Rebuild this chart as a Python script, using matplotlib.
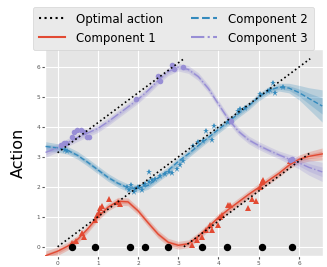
import matplotlib; matplotlib.use("Agg")
import matplotlib.pyplot as plt
import numpy as np

plt.style.use("ggplot")
plt.rcParams.update({"font.family": ["DejaVu Sans"]})

RED = "#E24A33"; BLUE = "#348ABD"; PURPLE = "#988ED5"

# optimal action segments (state -> action)
opt_x = [[0, 6.28], [0, 3.14], [3.14, 6.28]]
opt_y = [[0, 6.28], [3.14, 6.28], [0, 3.14]]

# visited states (black dots on a=0)
states = [0.36, 0.94, 1.81, 2.17, 2.74, 3.6, 4.22, 5.07, 5.82]

# component means / std
grid = [-0.3, 0, 0.25, 0.5, 0.75, 1.0, 1.25, 1.5, 1.75, 2.0, 2.25, 2.5, 2.75, 3.0,
        3.25, 3.5, 3.75, 4.0, 4.25, 4.5, 4.75, 5.0, 5.25, 5.5, 5.75, 6.0, 6.25, 6.58]
c1_mean = [-0.3, -0.15, 0.02, 0.25, 0.6, 1.0, 1.32, 1.52, 1.5, 1.2, 0.8, 0.42, 0.15, 0.05,
           0.1, 0.35, 0.66, 0.98, 1.25, 1.5, 1.75, 1.98, 2.22, 2.45, 2.72, 2.92, 3.02, 3.1]
c2_mean = [3.35, 3.3, 3.22, 3.05, 2.82, 2.57, 2.32, 2.12, 1.97, 1.95, 2.05, 2.3, 2.55, 2.85,
           3.1, 3.38, 3.65, 3.92, 4.18, 4.45, 4.7, 5.0, 5.22, 5.33, 5.3, 5.15, 4.95, 4.7]
c3_mean = [3.15, 3.3, 3.48, 3.65, 3.8, 3.95, 4.17, 4.42, 4.67, 4.92, 5.22, 5.55, 5.85, 6.0,
           5.92, 5.68, 5.28, 4.76, 4.25, 3.85, 3.57, 3.38, 3.22, 3.07, 2.93, 2.8, 2.65, 2.5]
c1_std = [0.08, 0.07] + [0.065] * 23 + [0.07, 0.08, 0.1]
c2_std = [0.08, 0.07] + [0.065] * 22 + [0.08, 0.12, 0.18, 0.27]
c3_std = [0.08, 0.07] + [0.065] * 22 + [0.08, 0.1, 0.13, 0.16]

# sampled actions per component
c1_px = [0.36, 0.45, 0.61, 0.65, 0.94, 0.98, 1.02, 1.06, 1.1, 1.27, 1.5, 1.56,
         3.33, 3.46, 3.58, 3.7, 3.79, 3.85, 3.99, 4.03, 4.08, 4.24, 4.28, 4.74, 4.84,
         4.94, 5.02, 5.07, 5.11, 5.77, 5.85]
c1_py = [0.12, 0.18, 0.46, 0.34, 0.89, 1.06, 1.17, 1.28, 1.36, 1.61, 1.48, 1.42,
         0.07, 0.21, 0.34, 0.56, 0.73, 0.56, 0.73, 1.0, 1.06, 1.39, 1.39, 1.31, 1.58,
         1.52, 2.0, 2.16, 2.22, 2.88, 2.9]
c2_px = [0.18, 0.24, 1.72, 1.77, 1.83, 1.89, 1.93, 2.01, 2.1, 2.14, 2.18, 2.26, 2.28,
         2.34, 2.43, 2.55, 2.67, 2.76, 2.84, 2.96, 3.04, 3.13, 3.37, 3.5, 3.62, 3.69,
         3.85, 3.89, 4.24, 4.28, 4.49, 4.53, 4.65, 5.02, 5.23, 5.27, 5.35, 5.4, 5.6]
c2_py = [3.23, 3.19, 2.0, 1.89, 2.05, 1.83, 1.94, 2.0, 1.89, 2.05, 2.1, 2.16, 2.49,
         2.22, 2.27, 2.35, 2.44, 2.49, 2.46, 2.6, 2.72, 2.88, 3.38, 3.49, 3.54, 3.85,
         3.57, 4.04, 4.15, 4.2, 4.54, 4.59, 4.65, 5.09, 5.2, 5.25, 5.47, 5.14, 5.33]
c3_px = [0.08, 0.15, 0.22, 0.36, 0.42, 0.49, 0.57, 0.65, 0.73, 0.77, 1.95, 2.49,
         2.55, 2.84, 2.9, 3.13, 4.32, 5.79, 5.83]
c3_py = [3.4, 3.47, 3.45, 3.65, 3.82, 3.9, 3.9, 3.82, 3.65, 3.68, 4.92, 5.7,
         5.53, 6.08, 5.92, 6.0, 4.2, 2.9, 2.92]

fig = plt.figure(figsize=(3.27, 2.67), dpi=100)
ax = fig.add_axes([0.138, 0.041, 0.850, 0.775])

comps = [(c1_mean, c1_std, RED, "-", "Component 1", c1_px, c1_py, "^", 4.0),
         (c2_mean, c2_std, BLUE, "--", "Component 2", c2_px, c2_py, "*", 4.5),
         (c3_mean, c3_std, PURPLE, "-.", "Component 3", c3_px, c3_py, "o", 4.0)]
handles = []
for mean, std, col, ls, lab, px, py, mk, ms in comps:
    g = np.array(grid); m = np.array(mean); s = np.array(std)
    ax.fill_between(g, m - 2 * s, m + 2 * s, color=col, alpha=0.25, lw=0, zorder=2)
    ax.fill_between(g, m - s, m + s, color=col, alpha=0.25, lw=0, zorder=2)
    h, = ax.plot(g, m, ls=ls, color=col, lw=1.0, zorder=3, label=lab)
    ax.plot(px, py, mk, color=col, ms=ms, mew=0, zorder=4)
    handles.append(h)

for xs, ys in zip(opt_x, opt_y):
    ho, = ax.plot(xs, ys, ":", color="black", lw=1.2, zorder=5, label="Optimal action")
ax.plot(states, [0] * len(states), "o", color="black", ms=4.3, zorder=6)

ax.set_xlim(-0.31, 6.6); ax.set_ylim(-0.31, 6.6)
ax.set_xticks(range(7)); ax.set_yticks(range(7))
ax.tick_params(labelsize=4.2, length=2, pad=1.5, colors="#555555")
ax.set_ylabel("Action", fontsize=11.5, color="black", labelpad=8)

leg_h = [ho, handles[0], handles[1], handles[2]]
leg = fig.legend(leg_h, [h.get_label() for h in leg_h], ncol=2, loc="upper left",
                 bbox_to_anchor=(0.082, 0.997), fontsize=8.5, handlelength=2.2,
                 handletextpad=1.0, columnspacing=2.3, labelspacing=0.5,
                 borderpad=0.5, frameon=True)
for line in leg.get_lines():
    line.set_linewidth(1.5)

fig.savefig("out.png", dpi=100)
